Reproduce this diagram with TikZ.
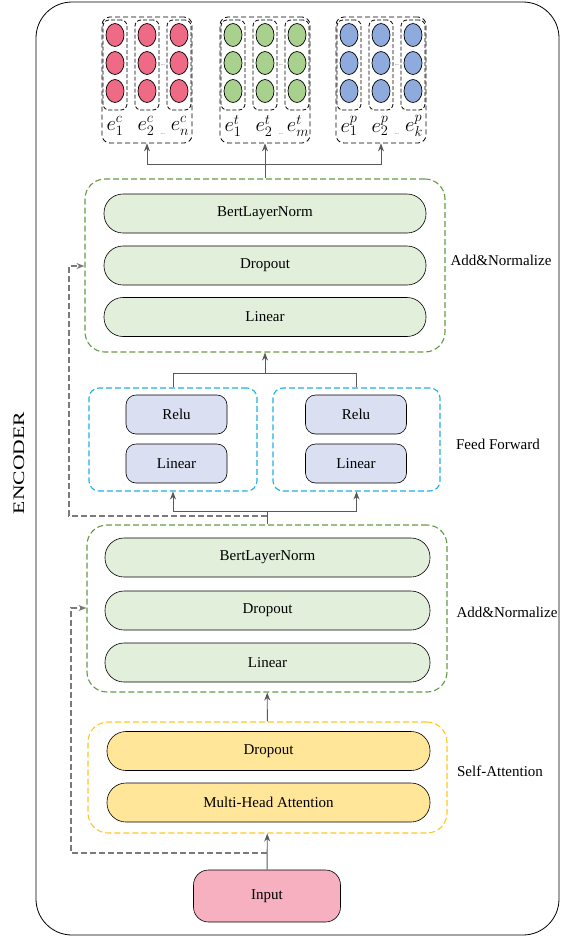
\documentclass[tikz,border=0pt]{standalone}
\usepackage{fontspec}
\setmainfont{Liberation Serif}
\usetikzlibrary{arrows.meta, positioning, shapes.geometric}

\definecolor{verdeChiaro}{HTML}{E2EFDA}
\definecolor{verdeBordo}{HTML}{679A45}
\definecolor{bluChiaro}{HTML}{DAE0F2}
\definecolor{bluBordo}{HTML}{1CB0E8}
\definecolor{gialloChiaro}{HTML}{FFE699}
\definecolor{gialloBordo}{HTML}{FFC81E}
\definecolor{rosa}{HTML}{F6B0BF}
\definecolor{rossoC}{HTML}{EE6A85}
\definecolor{verdeC}{HTML}{A9D18E}
\definecolor{bluC}{HTML}{8FAADC}
\definecolor{grigio}{HTML}{595959}
\definecolor{grigioR}{HTML}{7A7A7A}

\begin{document}
\begin{tikzpicture}[x=1pt, y=-1pt,
			% Definizione dello stile per i blocchi
			blocco/.style={draw, rectangle, rounded corners=19pt, minimum height=39pt, inner sep=0pt, line width=0.6pt, font=\fontsize{15}{15}\selectfont},
			bloccoFF/.style={blocco, rounded corners=10pt, minimum width=101pt, fill=bluChiaro},
			% Definizione dello stile per i riquadri tratteggiati
			riquadro/.style={draw, rectangle, rounded corners=20pt, dash pattern=on 6pt off 3pt, line width=1.1pt, inner sep=0pt},
			gruppo/.style={draw, rectangle, rounded corners=8pt, dash pattern=on 5pt off 3pt, line width=0.8pt, minimum width=90pt, minimum height=126pt, inner sep=0pt},
			colonna/.style={draw, rectangle, rounded corners=6pt, dash pattern=on 4pt off 2pt, line width=0.8pt, minimum width=24pt, minimum height=90pt, inner sep=0pt},
			cerchio/.style={ellipse, draw, line width=0.7pt, minimum width=18pt, minimum height=23pt, inner sep=0pt},
			etich/.style={font=\fontsize{15}{15}\selectfont},
			etichE/.style={font=\fontsize{22}{22}\selectfont, inner sep=0pt},
			% Definizione dello stile per le frecce
			freccia/.style={-{Stealth[length=8pt, width=6pt]}, draw=grigio, line width=0.9pt},
			linea/.style={draw=grigio, line width=0.9pt},
			residuo/.style={-{Stealth[length=8pt, width=6pt]}, draw=grigioR, dash pattern=on 6pt off 3pt, line width=1.1pt}
			]
			\useasboundingbox (0,0) rectangle (566,938);
			
			% --- CORNICE ---
			\draw[line width=0.8pt, rounded corners=36pt] (36,2) rectangle (559,935);
			\node[rotate=90, font=\fontsize{16}{16}\selectfont] (encoder) at (19,463) {\scalebox{1.35}[1]{ENCODER}};
			
			% --- EMBEDDING (in alto) ---
			\foreach \g/\cx/\col/\sup/\ult in {C/147/rossoC/c/n, T/265/verdeC/t/m, P/381/bluC/p/k}{
				\foreach \k/\dx in {1/-32, 2/0, 3/32}{
					\node[colonna] (col\g\k) at ({\cx+(\dx)},65) {};
					\foreach \r/\y in {1/35, 2/63, 3/91}
						\node[cerchio, fill=\col] (e\g\k\r) at ({\cx+(\dx)},\y) {};
				}
				\node[gruppo] (grp\g) at (\cx,80) {};
				\node[font=\tiny, inner sep=0pt] (pt\g) at ({\cx+16},65) {...};
				\node[etichE] (lab\g1) at ({\cx-32},126) {$e^{\sup}_{1}$};
				\node[etichE] (lab\g2) at ({\cx-1},126) {$e^{\sup}_{2}$};
				\node[etichE] (lab\g3) at ({\cx+33},126) {$e^{\sup}_{\ult}$};
				\node[font=\tiny, inner sep=0pt] (ptl\g) at ({\cx+16},134) {...};
			}
			
			% --- ADD&NORMALIZE (sopra) ---
			\node[riquadro, draw=verdeBordo, minimum width=360pt, minimum height=173pt] (an1) at (265,265.5) {};
			\node[blocco, fill=verdeChiaro, minimum width=322pt] (bln1) at (265,213.5) {BertLayerNorm};
			\node[blocco, fill=verdeChiaro, minimum width=322pt] (drp1) at (265,265.5) {Dropout};
			\node[blocco, fill=verdeChiaro, minimum width=322pt] (lin1) at (265,317) {Linear};
			\node[etich] (lblAN1) at (501,260) {Add\&Normalize};
			
			% --- FEED FORWARD ---
			\node[riquadro, draw=bluBordo, rounded corners=10pt, minimum width=168pt, minimum height=103pt] (ffL) at (173,439.5) {};
			\node[bloccoFF] (reluL) at (176.5,414.5) {Relu};
			\node[bloccoFF] (linL) at (176.5,463.5) {Linear};
			\node[riquadro, draw=bluBordo, rounded corners=10pt, minimum width=167pt, minimum height=103pt] (ffR) at (356.5,439.5) {};
			\node[bloccoFF] (reluR) at (356,414.5) {Relu};
			\node[bloccoFF] (linR) at (356,463.5) {Linear};
			\node[etich] (lblFF) at (498,444) {Feed Forward};
			
			% --- ADD&NORMALIZE (sotto) ---
			\node[riquadro, draw=verdeBordo, minimum width=360pt, minimum height=167pt] (an2) at (267,608.5) {};
			\node[blocco, fill=verdeChiaro, minimum width=325pt] (bln2) at (267.5,557.5) {BertLayerNorm};
			\node[blocco, fill=verdeChiaro, minimum width=325pt] (drp2) at (267.5,610.5) {Dropout};
			\node[blocco, fill=verdeChiaro, minimum width=325pt] (lin2) at (267.5,662.5) {Linear};
			\node[etich] (lblAN2) at (507,612) {Add\&Normalize};
			
			% --- SELF-ATTENTION ---
			\node[riquadro, draw=gialloBordo, minimum width=359pt, minimum height=111pt] (sa) at (267.5,777.5) {};
			\node[blocco, fill=gialloChiaro, minimum width=323pt] (drp3) at (268.5,751) {Dropout};
			\node[blocco, fill=gialloChiaro, minimum width=323pt] (mha) at (268.5,802.5) {Multi-Head Attention};
			\node[etich] (lblSA) at (500,771) {Self-Attention};
			
			% --- INPUT ---
			\node[blocco, fill=rosa, rounded corners=15pt, minimum width=147pt, minimum height=52pt] (input) at (267,896) {Input};
			
			% --- COLLEGAMENTI ---
			\coordinate (nodoTop) at (265,164);
			\coordinate (nodoFFsu) at (265,373);
			\coordinate (nodoFFgiu) at (267,511);
			\coordinate (dir1) at (267,516);
			\coordinate (res1) at (69,266);
			\coordinate (dir2) at (267,853);
			\coordinate (res2) at (71,608);
			
			\draw[freccia] (input) -- (sa);
			\draw[freccia] (sa) -- (an2);
			\draw[linea] (an2.north) -- (nodoFFgiu);
			\draw[freccia] (nodoFFgiu) -| (ffL.south);
			\draw[freccia] (nodoFFgiu) -| (ffR.south);
			\draw[linea] (ffL.north) |- (nodoFFsu);
			\draw[linea] (ffR.north) |- (nodoFFsu);
			\draw[freccia] (nodoFFsu) -- (an1.south);
			\draw[linea] (an1.north) -- (nodoTop);
			\draw[freccia] (nodoTop) -- (grpT.south);
			\draw[freccia] (nodoTop) -| (grpC.south);
			\draw[freccia] (nodoTop) -| (grpP.south);
			
			% connessioni residue
			\draw[residuo] (dir1) -| (res1) -- (res1 -| an1.west);
			\draw[residuo] (dir2) -| (res2) -- (res2 -| an2.west);
			
		\end{tikzpicture}
\end{document}
